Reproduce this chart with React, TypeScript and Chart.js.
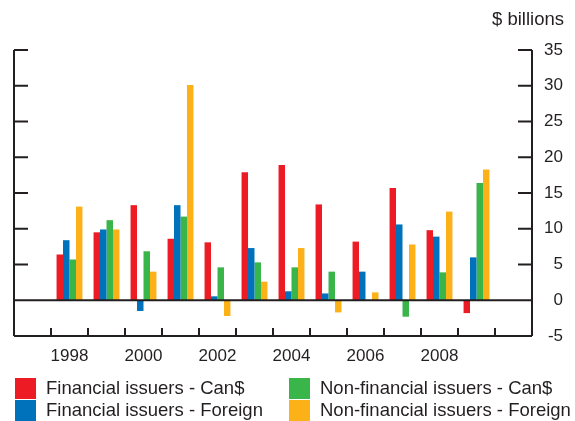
import React, { useEffect, useRef } from "react";
import { Chart, registerables } from "chart.js";

Chart.register(...registerables);

const categories = ["", "1998", "1999", "2000", "2001", "2002", "2003", "2004", "2005", "2006", "2007", "2008", "2009", ""];
const shownYears = ["1998", "2000", "2002", "2004", "2006", "2008"];

const financialCan = [null, 6.4, 9.5, 13.3, 8.6, 8.1, 17.9, 18.9, 13.4, 8.2, 15.7, 9.8, -1.8, null];
const financialForeign = [null, 8.4, 9.9, -1.5, 13.3, 0.55, 7.3, 1.25, 0.95, 4.0, 10.6, 8.9, 6.0, null];
const nonFinancialCan = [null, 5.7, 11.2, 6.85, 11.7, 4.6, 5.3, 4.6, 4.0, 0, -2.3, 3.9, 16.4, null];
const nonFinancialForeign = [null, 13.1, 9.9, 4.0, 30.1, -2.2, 2.6, 7.3, -1.7, 1.1, 7.8, 12.4, 18.3, null];

const yTicks = [-5, 0, 5, 10, 15, 20, 25, 30, 35];

const seriesNames = [
  "Financial issuers - Can$",
  "Financial issuers - Foreign",
  "Non-financial issuers - Can$",
  "Non-financial issuers - Foreign",
];
const seriesColors = ["#ed1c24", "#0072bc", "#3ab54a", "#fdb119"];

const INK = "#231f20";
const FONT = "'Liberation Sans', Arial, sans-serif";

const axesPlugin = {
  id: "customAxes",
  afterDatasetsDraw(chart: any) {
    const { ctx, chartArea } = chart;
    const xs = chart.scales.x;
    const ys = chart.scales.y;
    const { left, right, top, bottom } = chartArea;
    ctx.save();
    ctx.strokeStyle = INK;
    ctx.lineWidth = 2;
    ctx.beginPath();
    ctx.moveTo(left, top);
    ctx.lineTo(left, bottom);
    ctx.moveTo(right, top);
    ctx.lineTo(right, bottom);
    ctx.moveTo(left, bottom);
    ctx.lineTo(right, bottom);
    const y0 = ys.getPixelForValue(0);
    ctx.moveTo(left, y0);
    ctx.lineTo(right, y0);
    for (const v of yTicks) {
      const y = ys.getPixelForValue(v);
      ctx.moveTo(left, y);
      ctx.lineTo(left + 14, y);
      ctx.moveTo(right - 14, y);
      ctx.lineTo(right, y);
    }
    for (let i = 1; i < categories.length; i++) {
      const x = (xs.getPixelForValue(i - 1) + xs.getPixelForValue(i)) / 2;
      ctx.moveTo(x, bottom);
      ctx.lineTo(x, bottom - 8);
    }
    ctx.stroke();
    ctx.restore();
  },
};

export default function App() {
  const ref = useRef<HTMLCanvasElement | null>(null);

  useEffect(() => {
    if (!ref.current) return;
    const data = [financialCan, financialForeign, nonFinancialCan, nonFinancialForeign];
    const chart = new Chart(ref.current, {
      type: "bar",
      data: {
        labels: categories,
        datasets: data.map((d, i) => ({
          label: seriesNames[i],
          data: d as any,
          backgroundColor: seriesColors[i],
          borderWidth: 0,
          barPercentage: 1,
          categoryPercentage: 0.7,
        })),
      },
      options: {
        animation: false,
        responsive: true,
        maintainAspectRatio: false,
        layout: { padding: { left: 14, top: 50, right: 12, bottom: 0 } },
        plugins: {
          legend: { display: false },
          tooltip: { enabled: false },
        },
        scales: {
          x: {
            type: "category",
            offset: true,
            grid: { display: false, offset: true, drawTicks: false },
            border: { display: false },
            ticks: {
              autoSkip: false,
              maxRotation: 0,
              padding: 10,
              color: INK,
              font: { size: 17, family: FONT },
              callback: (_v: any, i: number) => (shownYears.includes(categories[i]) ? categories[i] : ""),
            },
            afterFit: (s: any) => {
              s.height = 85;
            },
          },
          y: {
            position: "right",
            min: -5,
            max: 35,
            grid: { display: false, drawTicks: false },
            border: { display: false },
            ticks: {
              stepSize: 5,
              crossAlign: "far",
              padding: 0,
              color: INK,
              font: { size: 17, family: FONT },
            },
            afterFit: (s: any) => {
              s.width = 31;
            },
          },
        },
      },
      plugins: [axesPlugin],
    });
    return () => chart.destroy();
  }, []);

  const legendItem = (i: number, x: number, boxTop: number, baseline: number) => (
    <React.Fragment key={i}>
      <div style={{ position: "absolute", left: x, top: boxTop, width: 21, height: 21, background: seriesColors[i] }} />
      <div
        style={{
          position: "absolute",
          left: x + 31,
          top: baseline - 16.7,
          fontFamily: FONT,
          fontSize: 18.5,
          color: INK,
          whiteSpace: "nowrap",
        }}
      >
        {seriesNames[i]}
      </div>
    </React.Fragment>
  );

  return (
    <div style={{ position: "absolute", left: 0, top: 0, width: 575, height: 421, background: "#fff" }}>
      <div style={{ position: "absolute", left: 0, top: 0, width: 575, height: 421 }}>
        <canvas ref={ref} />
      </div>
      <div
        style={{
          position: "absolute",
          right: 11,
          top: 8,
          fontFamily: FONT,
          fontSize: 18.5,
          color: INK,
          whiteSpace: "nowrap",
        }}
      >
        $ billions
      </div>
      {legendItem(0, 15, 378, 393.5)}
      {legendItem(1, 15, 399.5, 415.5)}
      {legendItem(2, 289, 378, 393.5)}
      {legendItem(3, 289, 399.5, 415.5)}
    </div>
  );
}
